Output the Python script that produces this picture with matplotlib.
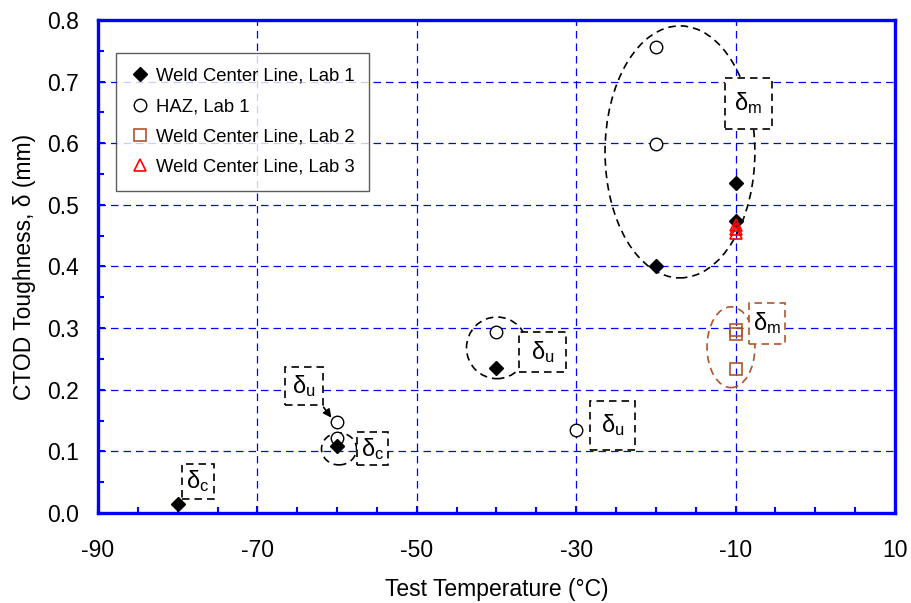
import numpy as np
import matplotlib
matplotlib.use("Agg")
import matplotlib.pyplot as plt
from matplotlib.patches import Ellipse, Rectangle

plt.rcParams["font.family"] = ["Liberation Sans", "DejaVu Sans"]
plt.rcParams["mathtext.fontset"] = "custom"
plt.rcParams["mathtext.rm"] = "Liberation Sans"
plt.rcParams["mathtext.it"] = "Liberation Sans"
plt.rcParams["axes.unicode_minus"] = False

# CTOD results (test temperature in degC, toughness in mm)
wcl_lab1_t = [-80, -60, -40, -20, -10, -10]
wcl_lab1_d = [0.015, 0.108, 0.235, 0.400, 0.536, 0.474]

haz_lab1_t = [-60, -60, -40, -30, -20, -20]
haz_lab1_d = [0.147, 0.122, 0.294, 0.134, 0.757, 0.598]

wcl_lab2_t = [-10, -10, -10]
wcl_lab2_d = [0.297, 0.291, 0.234]

wcl_lab3_t = [-10, -10, -10]
wcl_lab3_d = [0.467, 0.461, 0.455]

labels = ["Weld Center Line, Lab 1", "HAZ, Lab 1",
          "Weld Center Line, Lab 2", "Weld Center Line, Lab 3"]

BLUE = "#0000FF"
BROWN = "#B0552A"

fig = plt.figure(figsize=(9.11, 6.03), dpi=100)
ax = fig.add_axes([0.1076, 0.1493, 0.8748, 0.8175])

ax.set_xlim(-90, 10)
ax.set_ylim(0, 0.8)
ax.set_xticks(np.arange(-90, 11, 20))
ax.set_xticks(np.arange(-90, 11, 5), minor=True)
ax.set_yticks(np.arange(0, 0.81, 0.1))
ax.set_yticks(np.arange(0, 0.81, 0.05), minor=True)
ax.set_yticklabels([f"{v:.1f}" for v in np.arange(0, 0.81, 0.1)])

for s in ax.spines.values():
    s.set_color(BLUE)
    s.set_linewidth(2.4)
ax.tick_params(which="both", direction="in", color=BLUE, labelsize=16.5)
ax.tick_params(axis="x", which="major", pad=19)
ax.tick_params(axis="y", which="major", pad=14)
ax.tick_params(which="major", length=5, width=1.5)
ax.tick_params(which="minor", length=4, width=1.5)

ax.grid(True, which="major", color=BLUE, linestyle=(0, (6, 4)), linewidth=0.9)
ax.set_axisbelow(True)

ax.set_xlabel("Test Temperature (°C)", fontsize=16.5, labelpad=11)
ax.set_ylabel("CTOD Toughness, δ (mm)", fontsize=16.5, labelpad=8)

# dashed groupings
dash = (0, (4.5, 3))
groups = [
    ((-16.98, 0.586), 18.8, 0.409, "black"),
    ((-10.58, 0.269), 6.0, 0.131, BROWN),
    ((-39.94, 0.268), 7.65, 0.100, "black"),
    ((-59.76, 0.104), 4.4, 0.052, "black"),
]
for c, w, h, col in groups:
    ax.add_patch(Ellipse(c, w, h, fill=False, edgecolor=col,
                         linestyle=dash, linewidth=1.2, zorder=3))

# labelled callout boxes
boxes = [
    (-11.33, 0.623, 5.90, 0.083, "m", "black"),
    (-8.32, 0.274, 4.52, 0.067, "m", BROWN),
    (-37.18, 0.229, 5.90, 0.065, "u", "black"),
    (-28.27, 0.102, 5.65, 0.080, "u", "black"),
    (-66.54, 0.175, 4.77, 0.062, "u", "black"),
    (-57.50, 0.078, 3.89, 0.053, "c", "black"),
    (-79.46, 0.023, 4.01, 0.057, "c", "black"),
]
for x0, y0, w, h, sub, col in boxes:
    ax.add_patch(Rectangle((x0, y0), w, h, facecolor="white", edgecolor=col,
                           linestyle=dash, linewidth=1.2, zorder=4))
    ax.text(x0 + w / 2, y0 + h / 2, rf"$\mathregular{{δ_{sub}}}$",
            ha="center", va="center", fontsize=17, zorder=5)

ax.annotate("", xy=(-60.5, 0.151), xytext=(-61.9, 0.175),
            arrowprops=dict(arrowstyle="-|>", color="black", lw=1.2,
                            mutation_scale=12), zorder=5)

ax.plot(haz_lab1_t, haz_lab1_d, linestyle="none", marker="o", ms=9,
        mfc="white", mec="black", mew=1.0, label=labels[1], zorder=6)
ax.plot(wcl_lab1_t, wcl_lab1_d, linestyle="none", marker="D", ms=7,
        mfc="black", mec="black", label=labels[0], zorder=7)
ax.plot(wcl_lab2_t, wcl_lab2_d, linestyle="none", marker="s", ms=9,
        mfc="none", mec=BROWN, mew=1.2, label=labels[2], zorder=6)
ax.plot(wcl_lab3_t, wcl_lab3_d, linestyle="none", marker="^", ms=9,
        mfc="none", mec="red", mew=1.2, label=labels[3], zorder=8)

h, l = ax.get_legend_handles_labels()
order = [1, 0, 2, 3]
leg = ax.legend([h[i] for i in order], [l[i] for i in order],
                loc="upper left", bbox_to_anchor=(0.0226, 0.933),
                borderaxespad=0, fontsize=13.3, frameon=True, fancybox=False,
                handlelength=1.0, handletextpad=0.35, labelspacing=0.72,
                borderpad=0.8, numpoints=1)
leg.get_frame().set_edgecolor("#333333")
leg.get_frame().set_linewidth(1.0)
leg.set_zorder(10)

fig.savefig("out.png", dpi=100)
